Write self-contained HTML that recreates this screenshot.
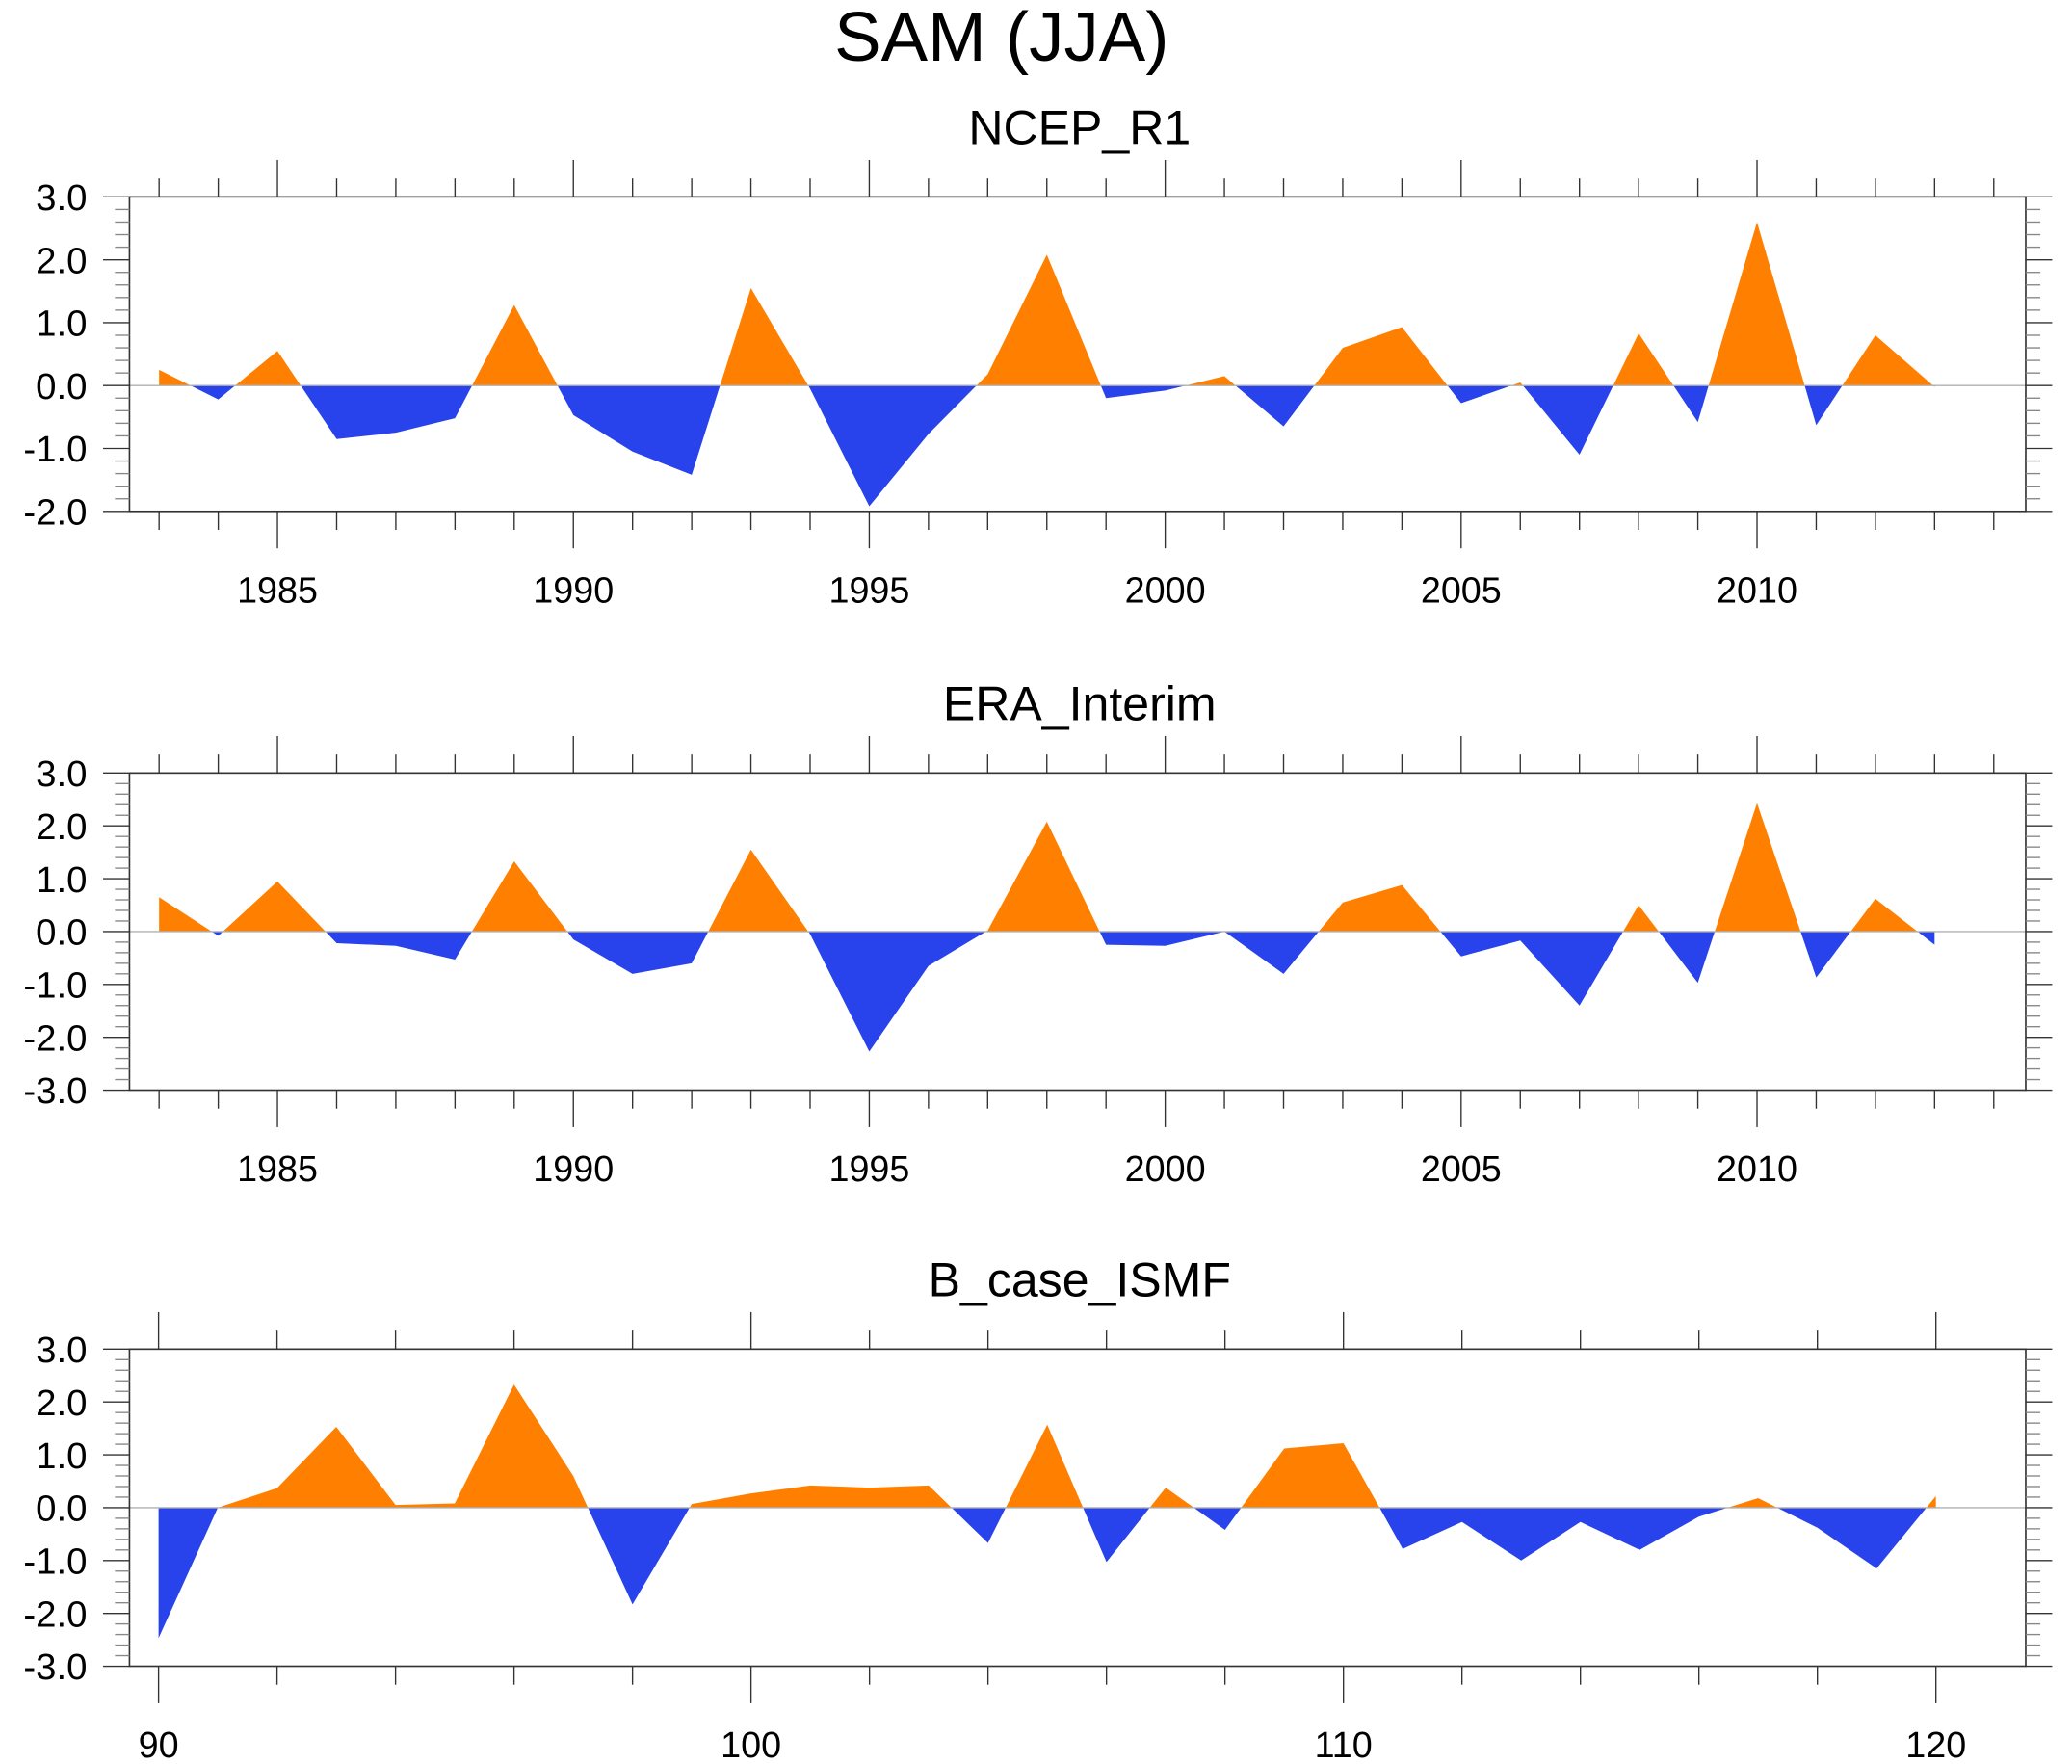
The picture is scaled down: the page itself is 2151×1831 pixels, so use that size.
<!DOCTYPE html>
<html><head><meta charset="utf-8"><style>
html,body{margin:0;padding:0;background:#fff;}
svg{display:block;font-family:"Liberation Sans",sans-serif;}
</style></head><body>
<svg id="chart" xmlns="http://www.w3.org/2000/svg" width="2151" height="1831" viewBox="0 0 1568 1335" preserveAspectRatio="none">
<text x="758" y="46" font-size="53" text-anchor="middle">SAM (JJA)</text>
</svg>
<script>
const yearsObs = [];
for (let y = 1983; y <= 2013; y++) yearsObs.push(y);
const ncepValues = [0.25,-0.22,0.55,-0.85,-0.75,-0.52,1.28,-0.47,-1.05,-1.42,1.55,-0.05,-1.92,-0.77,0.18,2.08,-0.2,-0.08,0.15,-0.65,0.6,0.93,-0.28,0.05,-1.1,0.83,-0.58,2.6,-0.63,0.8,-0.02];
const eraValues = [0.65,-0.08,0.95,-0.22,-0.27,-0.53,1.33,-0.15,-0.8,-0.6,1.55,-0.05,-2.27,-0.65,0.02,2.08,-0.25,-0.27,0.0,-0.8,0.55,0.88,-0.47,-0.17,-1.4,0.5,-0.97,2.43,-0.87,0.62,-0.25];
const modelYears = [];
for (let y = 90; y <= 120; y++) modelYears.push(y);
const modelValues = [-2.47,0.0,0.37,1.53,0.05,0.08,2.33,0.6,-1.83,0.07,0.27,0.42,0.38,0.42,-0.67,1.57,-1.03,0.38,-0.42,1.12,1.22,-0.78,-0.27,-1.0,-0.27,-0.8,-0.17,0.18,-0.38,-1.15,0.22];
const obsXTicks = [1985,1990,1995,2000,2005,2010];
const modelXTicks = [90,100,110,120];
const yTicks1 = ["3.0","2.0","1.0","0.0","-1.0","-2.0"];
const yTicks2 = ["3.0","2.0","1.0","0.0","-1.0","-2.0","-3.0"];
const panelTitles = ["NCEP_R1","ERA_Interim","B_case_ISMF"];

const NS = "http://www.w3.org/2000/svg";
const svg = document.getElementById('chart');
function mk(tag, attrs, parent){const e=document.createElementNS(NS,tag);for(const k in attrs)e.setAttribute(k,attrs[k]);(parent||svg).appendChild(e);return e;}

const panels = [
 {title:panelTitles[0], xs:yearsObs, vs:ncepValues, top:149, bot:387, ymin:-2, ymax:3, xmin:1983, xmax:2013, x0:120.4, x1:1464, majT:obsXTicks, minStep:1, majStep:5, xlo:1983, xhi:2014, ylabels:yTicks1},
 {title:panelTitles[1], xs:yearsObs, vs:eraValues, top:585, bot:825, ymin:-3, ymax:3, xmin:1983, xmax:2013, x0:120.4, x1:1464, majT:obsXTicks, minStep:1, majStep:5, xlo:1983, xhi:2014, ylabels:yTicks2},
 {title:panelTitles[2], xs:modelYears, vs:modelValues, top:1021, bot:1261, ymin:-3, ymax:3, xmin:90, xmax:120, x0:120, x1:1465, majT:modelXTicks, minStep:2, majStep:10, xlo:90, xhi:121, ylabels:yTicks2}
];
const L=98, R=1533;
panels.forEach((p,i)=>{
 const g = mk('g',{});
 
 
 const xs = v => p.x0 + (v-p.xmin)*(p.x1-p.x0)/(p.xmax-p.xmin);
 const ys = v => p.top + (p.ymax-v)*(p.bot-p.top)/(p.ymax-p.ymin);
 const z = ys(0);
 const t = mk('text',{x:817,y:p.top-40,'font-size':36.5,'text-anchor':'middle'},g);
 t.textContent=p.title;
 
 
 const defs = mk('defs',{},g);
 const ca = mk('clipPath',{id:'ca'+i},defs); mk('rect',{x:0,y:0,width:1568,height:z},ca);
 const cb = mk('clipPath',{id:'cb'+i},defs); mk('rect',{x:0,y:z,width:1568,height:1335},cb);
 let d = 'M'+xs(p.xs[0])+','+z;
 p.xs.forEach((x,k)=>{d+=' L'+xs(x)+','+ys(p.vs[k]);});
 d += ' L'+xs(p.xs[p.xs.length-1])+','+z+' Z';
 const pa = mk('path',{d:d,fill:'#ff8000','clip-path':'url(#ca'+i+')'},g);
 
 
 const pb = mk('path',{d:d,fill:'#2842ec','clip-path':'url(#cb'+i+')'},g);
 
 
 const zl = mk('line',{x1:L,x2:R,y1:z,y2:z,stroke:'#b0b0b0','stroke-width':1},g);
 
 
 const fr = mk('rect',{x:L,y:p.top,width:R-L,height:p.bot-p.top,fill:'none',stroke:'#333','stroke-width':1.2},g);
 
 
 for(let v=p.xlo; v<=p.xhi; v+=p.minStep){
  const x=xs(v); const maj=(v%p.majStep===0);
  const len = maj?28:14;
  mk('line',{x1:x,x2:x,y1:p.top,y2:p.top-len,stroke:'#333','stroke-width':1},g);
  mk('line',{x1:x,x2:x,y1:p.bot,y2:p.bot+len,stroke:'#333','stroke-width':1},g);
 }
 p.majT.forEach(v=>{
  const tl=mk('text',{x:xs(v),y:p.bot+69,'font-size':27.5,'text-anchor':'middle'},g);
  tl.textContent=String(v);
  
  
 });
 for(let k=Math.round(p.ymin*5); k<=Math.round(p.ymax*5); k++){
  const v=k/5, y=ys(v), maj=(k%5===0);
  const len = maj?20:11;
  mk('line',{x1:L,x2:L-len,y1:y,y2:y,stroke:maj?'#333':'#888','stroke-width':1},g);
  mk('line',{x1:R,x2:R+len,y1:y,y2:y,stroke:maj?'#333':'#888','stroke-width':1},g);
 }
 p.ylabels.forEach(s=>{
  const yl=mk('text',{x:66,y:ys(parseFloat(s))+10,'font-size':28,'text-anchor':'end'},g);
  yl.textContent=s;
  
  
 });
});
</script>
</body></html>
